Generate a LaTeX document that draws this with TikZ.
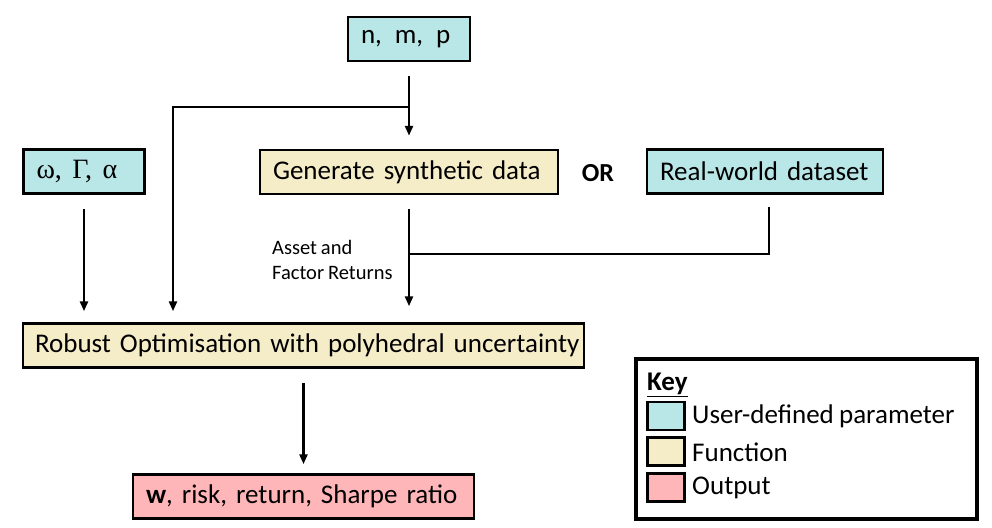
\documentclass[tikz,border=0pt]{standalone}
\usepackage{fontspec}
\setmainfont{Carlito}[WordSpace=0.85]
\newfontfamily\grk{Liberation Serif}
\usetikzlibrary{arrows.meta}
\definecolor{paramc}{RGB}{185,230,230}
\definecolor{funcc}{RGB}{245,236,200}
\definecolor{outc}{RGB}{255,182,185}
\tikzset{
  box/.style={draw=black, line width=2.5pt, align=left, inner xsep=13pt, inner ysep=0pt,
    minimum height=44pt, font=\fontsize{27}{32}\selectfont},
  param/.style={box, fill=paramc},
  func/.style={box, fill=funcc},
  outp/.style={box, fill=outc},
  conn/.style={line width=2.5pt, black},
  arr/.style={conn, -{Triangle[width=8pt,length=10pt]}},
  swatch/.style={draw=black, line width=2.5pt, minimum width=37pt, minimum height=28pt, inner sep=0pt},
  keytxt/.style={anchor=west, inner sep=0pt, font=\fontsize{27}{32}\selectfont},
}
\begin{document}
\begin{tikzpicture}[x=1pt, y=-1pt]
\useasboundingbox[fill=white] (0,0) rectangle (992,527);

% boxes
\node[param, text width=96pt] (nmp) at (409,39) {\mbox{n,\hspace{13pt}m,\hspace{13pt}p}};
\node[param, text width=95pt] (omega) at (84,171.5) {\mbox{\grk\fontsize{28}{32}\selectfont ω,\hspace{10.5pt}Γ,\hspace{10.5pt}α}};
\node[func, text width=272pt] (gen) at (409,172) {\mbox{Generate synthetic data}};
\node[param, text width=210pt] (real) at (765,171.5) {\mbox{Real-world dataset}};
\node[font=\fontsize{26}{30}\selectfont\bfseries, inner sep=0pt] (or) at (598,173) {OR};
\node[func, text width=537pt, inner xsep=12pt] (robust) at (303.5,345.5) {\mbox{Robust Optimisation with polyhedral uncertainty}};
\node[outp, text width=315pt] (out) at (303.5,496.5) {\mbox{\textbf{w}, risk, return, Sharpe ratio}};

% label
\node[anchor=west, align=left, inner sep=0pt, font=\fontsize{20.5}{25}\selectfont] (afr) at (272,259.5) {Asset and\\Factor Returns};

% helper coordinates
\coordinate (br) at (409,107);
\coordinate (xl) at (173,0);
\coordinate (rj) at (409,254);

% connectors
\draw[arr, shorten <=14pt, shorten >=13pt] (nmp.south) -- (gen.north);
\draw[arr, shorten >=11pt] (br) -| (robust.north -| xl);
\draw[arr, shorten <=14pt, shorten >=11pt] (omega.south) -- (omega.south |- robust.north);
\draw[arr, shorten <=14pt, shorten >=16pt] (gen.south) -- (gen.south |- robust.north);
\draw[conn, shorten <=12pt] ([xshift=4pt]real.south) |- (rj);
\draw[arr, shorten <=14pt, shorten >=9pt] (robust.south) -- (out.north);

% key
\node[draw=black, line width=3.5pt, minimum width=341pt, minimum height=160pt, inner sep=0pt] (key) at (806.5,439) {};
\node[keytxt, font=\fontsize{27}{32}\selectfont\bfseries] (keyt) at (647,385) {\underline{Key}};
\node[swatch, fill=paramc] (sw1) at (666,416) {};
\node[swatch, fill=funcc] (sw2) at (666,451.5) {};
\node[swatch, fill=outc] (sw3) at (666,487.5) {};
\node[keytxt] (k1) at (692,416) {User-defined parameter};
\node[keytxt] (k2) at (692,452) {Function};
\node[keytxt] (k3) at (692,487.5) {Output};
\end{tikzpicture}
\end{document}
